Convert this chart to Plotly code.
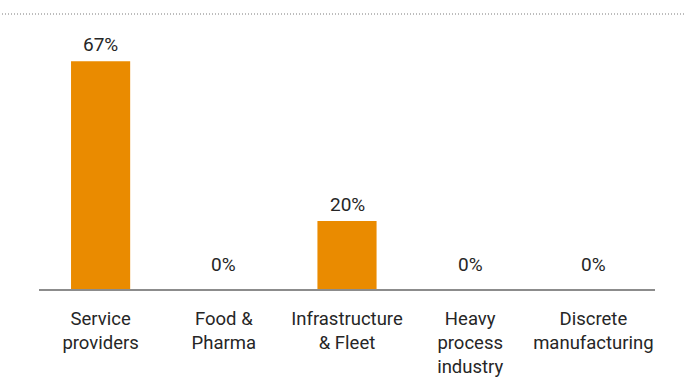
import plotly.graph_objects as go

categories = ["Service<br>providers", "Food &<br>Pharma", "Infrastructure<br>& Fleet",
              "Heavy<br>process<br>industry", "Discrete<br>manufacturing"]
values = [67, 0, 20, 0, 0]
value_labels = [f"{v}%" for v in values]

BAR_COLOR = "#EA8B00"
TEXT_COLOR = "#262626"
FONT = "Roboto, Liberation Sans, sans-serif"

W, H = 686, 389
ML, MR, MT, MB = 39, 31, 14, 100
plot_w = W - ML - MR

fig = go.Figure(go.Bar(
    x=categories, y=values, marker_color=BAR_COLOR, marker_line_width=0,
    hoverinfo="skip",
))

for c, v, t in zip(categories, values, value_labels):
    fig.add_annotation(x=c, y=v, text=t, showarrow=False, yanchor="bottom",
                       yshift=3 if v > 0 else 11,
                       font=dict(size=19, color=TEXT_COLOR, family=FONT))

# dotted rule along the top
fig.add_shape(type="line", xref="paper", yref="paper",
              x0=(2 - ML) / plot_w, x1=(W - ML) / plot_w, y0=1, y1=1,
              line=dict(color="#7a7a7a", width=1, dash="1px,2px"))

fig.update_layout(
    width=W, height=H,
    margin=dict(l=ML, r=MR, t=MT, b=MB),
    paper_bgcolor="white", plot_bgcolor="white",
    bargap=0.52, showlegend=False,
    font=dict(family=FONT, size=18, color=TEXT_COLOR),
)
fig.update_xaxes(showline=True, linecolor="#8c8c8c", linewidth=1.5,
                 ticks="", ticklabelstandoff=12, showgrid=False,
                 tickfont=dict(size=18.5, color=TEXT_COLOR, family=FONT))
fig.update_yaxes(range=[0, 275 / 3.4], visible=False, showgrid=False, zeroline=False)

fig.write_html("out.html")
